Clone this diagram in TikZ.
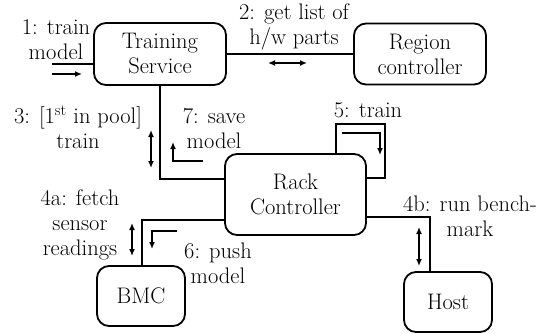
\documentclass[tikz,border=0pt]{standalone}
\usetikzlibrary{arrows.meta}
\begin{document}
\begin{tikzpicture}[x=1pt,y=-1pt,
  font=\fontsize{22.5}{25}\selectfont,
  line width=1.8pt,
  box/.style={draw, rounded corners=12pt, align=center, inner sep=0pt},
  lbl/.style={align=center, inner sep=0pt},
  arr/.style={-{Latex[length=7pt,width=6pt]}, line width=1.5pt},
  darr/.style={{Latex[length=7pt,width=6pt]}-{Latex[length=7pt,width=6pt]}, line width=1.5pt}]
\useasboundingbox (0,0) rectangle (551,333);
% boxes
\node[box, minimum width=132pt, minimum height=62pt] (ts) at (160,54) {Training\\Service};
\node[box, minimum width=132pt, minimum height=61pt] (rc) at (420,54) {Region\\controller};
\node[box, minimum width=141pt, minimum height=81pt] (rack) at (295.5,194.5) {Rack\\Controller};
\node[box, minimum width=88pt, minimum height=60pt] (bmc) at (141,296) {BMC};
\node[box, minimum width=88pt, minimum height=60pt] (host) at (448,302) {Host};
% connectors
\coordinate (in1) at (52,64);
\draw (in1) -- (in1 -| ts.west);
\draw (ts.east) -- (rc.west);
\coordinate (c3) at (160,179);
\draw (ts.south) -- (c3) -- (c3 -| rack.west);
\coordinate (l5a) at (336,124);
\coordinate (l5b) at (385,124);
\coordinate (l5c) at (385,178);
\draw (l5a |- rack.north) -- (l5a) -- (l5b) -- (l5c) -- (l5c -| rack.east);
\coordinate (c4a) at (142,220);
\draw (c4a -| rack.west) -- (c4a) -- (c4a |- bmc.north);
\coordinate (c4b) at (430,217);
\draw (c4b -| rack.east) -- (c4b) -- (c4b |- host.north);
% small arrows
\coordinate (a1s) at (52,74); \coordinate (a1e) at (82,74);
\draw[arr] (a1s) -- (a1e);
\coordinate (a2s) at (268,63); \coordinate (a2e) at (307,63);
\draw[darr] (a2s) -- (a2e);
\coordinate (a3s) at (151,130); \coordinate (a3e) at (151,168);
\draw[darr] (a3s) -- (a3e);
\coordinate (a7s) at (203,161); \coordinate (a7m) at (173,161); \coordinate (a7e) at (173,142);
\draw[arr] (a7s) -- (a7m) -- (a7e);
\coordinate (a5s) at (342,133); \coordinate (a5m) at (380,133); \coordinate (a5e) at (380,155);
\draw[arr] (a5s) -- (a5m) -- (a5e);
\coordinate (a4as) at (132,223); \coordinate (a4ae) at (132,256);
\draw[darr] (a4as) -- (a4ae);
\coordinate (a6s) at (177,231); \coordinate (a6m) at (152,231); \coordinate (a6e) at (152,249);
\draw[arr] (a6s) -- (a6m) -- (a6e);
\coordinate (a4bs) at (419,227); \coordinate (a4be) at (419,266);
\draw[darr] (a4bs) -- (a4be);
% labels
\node[lbl] (l1) at (56,40) {1: train\\model};
\node[lbl] (l2) at (294,27) {2: get list of\\h/w parts};
\node[lbl] (l3) at (78,127) {3: [1\textsuperscript{st} in pool]\\train};
\node[lbl] (l7) at (214,128) {7: save\\model};
\node[lbl] (l5) at (368,110) {5: train};
\node[lbl] (l4a) at (80,225) {4a: fetch\\sensor\\readings};
\node[lbl] (l6) at (218,263) {6: push\\model};
\node[lbl] (l4b) at (470,216) {4b: run bench-\\mark};
\end{tikzpicture}
\end{document}
